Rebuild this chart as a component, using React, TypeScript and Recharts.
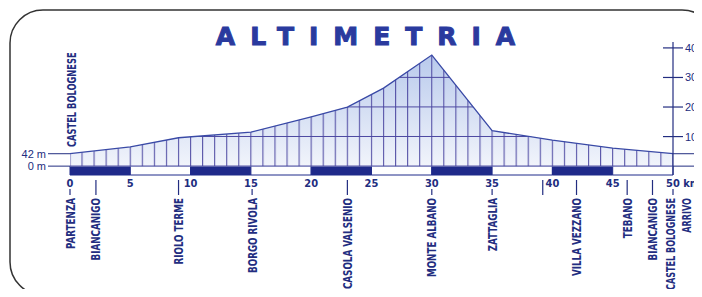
import React from "react";
import { ComposedChart, Area, XAxis, YAxis, ReferenceArea, ReferenceLine } from "recharts";

// ----- profile data (km, metres) -----
const kmPoints = [0, 5, 9, 15, 20, 23, 26, 30, 35, 40, 45, 50];
const altitudes = [42, 65, 96, 115, 167, 200, 264, 376, 120, 88, 61, 42];

// ----- axes -----
const kmTicks = [0, 5, 10, 15, 20, 25, 30, 35, 40, 45, 50];
const altTicks = [100, 200, 300, 400];
const levelMarks = [0, 42];
const scaleMarks = [0, 5, 10, 15, 20, 25, 30, 35, 40, 45, 50];

// ----- places along the route -----
const placeKm = [0, 2.15, 9, 15.1, 23, 30, 35, 39.2, 42, 46.2, 48.3, 50];
const placeNames = [
  "PARTENZA",
  "BIANCANIGO",
  "RIOLO TERME",
  "BORGO RIVOLA",
  "CASOLA VALSENIO",
  "MONTE ALBANO",
  "ZATTAGLIA",
  "",
  "VILLA VEZZANO",
  "TEBANO",
  "BIANCANIGO",
  "CASTEL BOLOGNESE|ARRIVO",
];
const startName = "CASTEL BOLOGNESE";
const title = "ALTIMETRIA";

const data = kmPoints.map((km, i) => ({ km, alt: altitudes[i] }));

// ----- layout -----
const W = 702;
const H = 297;
const LEFT_W = 70;
const RIGHT_W = 29;
const TOP = 42;
const X_AXIS_H = 20;
const BOTTOM = 102;
const Y_MIN = -30;
const Y_MAX = 420;

const plotBottom = H - BOTTOM - X_AXIS_H;
const pxPerM = (plotBottom - TOP) / (Y_MAX - Y_MIN);
const y0 = TOP + Y_MAX * pxPerM;
const kmPx = (W - LEFT_W - RIGHT_W) / 50;

const NAVY = "#1f2a8a";
const INK = "#222d80";
const COND = "'DejaVu Sans Condensed', 'Liberation Sans Narrow', Roboto, sans-serif";

// tall narrow rotated label, reads bottom -> top
function VText({ x, y, anchor, squeeze = 0.78, children }: any) {
  return (
    <text
      x={0}
      y={0}
      dy="0.36em"
      transform={`translate(${x}, ${y}) rotate(-90) scale(${squeeze}, 1)`}
      textAnchor={anchor}
      fontFamily={COND}
      fontWeight="bold"
      fontSize={12.5}
      fill={INK}
    >
      {children}
    </text>
  );
}

function KmTick(props: any) {
  const { x, y, payload } = props;
  const v = payload.value;
  const last = v === 50;
  return (
    <text
      x={last ? x - 7 : x}
      y={y + 12}
      textAnchor={last ? "start" : "middle"}
      fontFamily={COND}
      fontWeight="bold"
      fontSize={11}
      fill={INK}
    >
      {last ? "50 km" : v}
    </text>
  );
}

function LevelTick(props: any) {
  const { x, y, payload } = props;
  return (
    <g>
      <line x1={x - 22} x2={x} y1={y} y2={y} stroke={INK} strokeWidth={1} />
      <text x={x - 24} y={y} dy={4} textAnchor="end" fontFamily="'Liberation Sans', Arial, sans-serif" fontSize={11} fill={INK}>
        {payload.value} m
      </text>
    </g>
  );
}

function AltTick(props: any) {
  const { x, y, payload } = props;
  const v = payload.value;
  if (levelMarks.includes(v)) {
    return <line x1={x} x2={W} y1={y} y2={y} stroke={INK} strokeWidth={1} />;
  }
  return (
    <g>
      <line x1={x - 10} x2={x + 10} y1={y} y2={y} stroke={INK} strokeWidth={1.2} />
      <text x={x + 12} y={y} dy={4} fontFamily="'Liberation Sans', Arial, sans-serif" fontSize={11} fill={INK}>
        {v}
      </text>
    </g>
  );
}

function PlaceLabel(props: any) {
  const { viewBox, name, km } = props;
  if (!viewBox) return null;
  const x = viewBox.x;
  const bottom = viewBox.y + viewBox.height;
  const onNumber = Math.abs(km - Math.round(km / 5) * 5) < 0.5;
  const lines = name ? name.split("|") : [];
  return (
    <g>
      <line x1={x} x2={x} y1={onNumber ? bottom + 14 : bottom + 5} y2={bottom + 20} stroke={INK} strokeWidth={1.2} />
      {lines.map((t: string, i: number) => (
        <VText
          key={i}
          x={x + (lines.length > 1 ? -3 + i * 16 : 0)}
          y={bottom + 23}
          anchor="end"
          squeeze={lines.length > 1 ? 0.72 : 0.78}
        >
          {t}
        </VText>
      ))}
    </g>
  );
}

function StartLabel(props: any) {
  const { viewBox } = props;
  if (!viewBox) return null;
  return (
    <VText x={viewBox.x + 1} y={147} anchor="start" squeeze={0.74}>
      {startName}
    </VText>
  );
}

export default function App() {
  return (
    <div style={{ position: "relative", width: W, height: H, margin: -8, overflow: "hidden", background: "#fff" }}>
      <svg width={W} height={H} style={{ position: "absolute", left: 0, top: 0 }}>
        <defs>
          <linearGradient id="altFill" x1="0" y1="0" x2="0" y2="1">
            <stop offset="0%" stopColor="#b9caec" />
            <stop offset="100%" stopColor="#f1f4fb" />
          </linearGradient>
          <pattern id="hatch" patternUnits="userSpaceOnUse" x={LEFT_W - 0.6} y={y0 - 0.6} width={kmPx} height={100 * pxPerM}>
            <path d={`M0.6 0 V${100 * pxPerM} M0 0.6 H${kmPx}`} stroke="#4a46a0" strokeWidth={1} fill="none" />
          </pattern>
        </defs>
        <rect x={10} y={10} width={705} height={285} rx={33} fill="none" stroke="#333" strokeWidth={1.5} />
        <text
          x={366 + 7}
          y={45}
          textAnchor="middle"
          fontFamily="'DejaVu Sans', sans-serif"
          fontWeight="bold"
          fontSize={25}
          letterSpacing={15}
          fill="#2a3a9e"
          stroke="#2a3a9e"
          strokeWidth={1}
        >
          {title}
        </text>
      </svg>
      <div style={{ position: "absolute", left: 0, top: 0 }}>
        <ComposedChart width={W} height={H} data={data} margin={{ top: TOP, right: 0, bottom: BOTTOM, left: 0 }}>
          <XAxis
            xAxisId="km"
            dataKey="km"
            type="number"
            domain={[0, 50]}
            ticks={kmTicks}
            interval={0}
            height={X_AXIS_H}
            axisLine={false}
            tickLine={false}
            tickSize={0}
            tickMargin={0}
            tick={<KmTick />}
          />
          <YAxis
            yAxisId="lvl"
            orientation="left"
            width={LEFT_W}
            type="number"
            domain={[Y_MIN, Y_MAX]}
            allowDataOverflow
            ticks={levelMarks}
            interval={0}
            axisLine={false}
            tickLine={false}
            tickSize={0}
            tickMargin={0}
            tick={<LevelTick />}
          />
          <YAxis
            yAxisId="alt"
            orientation="right"
            width={RIGHT_W}
            type="number"
            domain={[Y_MIN, Y_MAX]}
            allowDataOverflow
            ticks={[...levelMarks, ...altTicks]}
            interval={0}
            axisLine={{ stroke: INK, strokeWidth: 1.2 }}
            tickLine={false}
            tickSize={0}
            tickMargin={0}
            tick={<AltTick />}
          />
          {scaleMarks.slice(0, -1).map((k, i) => (
            <ReferenceArea
              key={`s${k}`}
              xAxisId="km"
              yAxisId="alt"
              x1={k}
              x2={scaleMarks[i + 1]}
              y1={Y_MIN}
              y2={0}
              fill={i % 2 === 0 ? NAVY : "#ffffff"}
              fillOpacity={1}
              stroke={NAVY}
              strokeWidth={1}
            />
          ))}
          <Area
            xAxisId="km"
            yAxisId="alt"
            dataKey="alt"
            type="linear"
            baseValue={0}
            fill="url(#altFill)"
            fillOpacity={1}
            stroke="none"
            isAnimationActive={false}
          />
          <Area
            xAxisId="km"
            yAxisId="alt"
            dataKey="alt"
            type="linear"
            baseValue={0}
            fill="url(#hatch)"
            fillOpacity={1}
            stroke="#3a4aa6"
            strokeWidth={1.3}
            isAnimationActive={false}
          />
          {placeKm.map((k, i) => (
            <ReferenceLine
              key={`p${i}`}
              xAxisId="km"
              yAxisId="alt"
              x={k}
              stroke="none"
              label={<PlaceLabel name={placeNames[i]} km={k} />}
            />
          ))}
          <ReferenceLine xAxisId="km" yAxisId="alt" x={0} stroke="none" label={<StartLabel />} />
        </ComposedChart>
      </div>
    </div>
  );
}
